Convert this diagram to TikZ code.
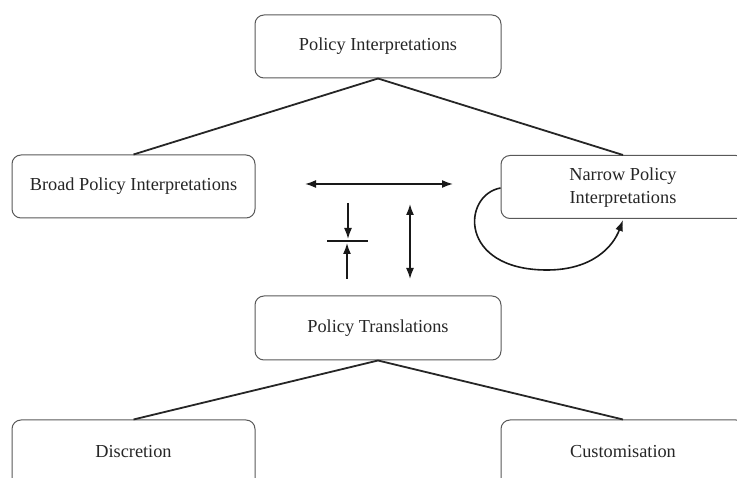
\documentclass[tikz,border=0pt]{standalone}
\usepackage{fontspec}
\setmainfont{Liberation Serif}
\usetikzlibrary{arrows.meta}
\begin{document}
\begin{tikzpicture}[x=1pt,y=-1pt,
  lbl/.style={font=\fontsize{18.3}{23}\selectfont,text=black!85},
  box/.style={draw=black!65,line width=1pt,rounded corners=9pt,fill=white,minimum width=244pt,minimum height=63pt,inner sep=0pt,align=center,lbl},
  link/.style={line width=1.8pt,black!85},
  arr/.style={line width=1.6pt,black!90,-{Latex[length=11pt,width=8pt]}},
  darr/.style={line width=1.6pt,black!90,{Latex[length=11pt,width=8pt]}-{Latex[length=11pt,width=8pt]}}]
\useasboundingbox (0,0) rectangle (737,478);
\clip (0,0) rectangle (737,478);
\node[box,minimum width=246pt] (pi) at (378,46.5) {Policy Interpretations};
\node[box,minimum width=243pt] (bp) at (133.5,186.5) {Broad Policy Interpretations};
\node[box,text depth=3pt] (np) at (623,187) {Narrow Policy\\Interpretations};
\node[box,minimum width=246pt,minimum height=64pt] (pt) at (378,328) {Policy Translations};
\node[box,minimum width=243pt,minimum height=100pt] (di) at (133.5,470) {};
\node[lbl] (dit) at (133.5,452) {Discretion};
\node[box,minimum height=100pt] (cu) at (623,470) {};
\node[lbl] (cut) at (623,452) {Customisation};
\draw[link] (pi.south) -- (bp.north);
\draw[link] (pi.south) -- (np.north);
\draw[link] (pt.south) -- (di.north);
\draw[link] (pt.south) -- (cu.north);
\coordinate (h1) at (305,184);
\coordinate (h2) at (453,184);
\draw[darr] (h1) -- (h2);
\coordinate (v1) at (410,204);
\coordinate (v2) at (410,279);
\draw[darr] (v1) -- (v2);
\coordinate (b1) at (327,241);
\coordinate (b2) at (368,241);
\draw[line width=1.2pt,black!90] (b1) -- (b2);
\coordinate (d1) at (348,203);
\coordinate (d2) at (348,239);
\draw[arr] (d1) -- (d2);
\coordinate (u1) at (347,279);
\coordinate (u2) at (347,243);
\draw[arr] (u1) -- (u2);
\draw[arr] (np.west |- 0,188) .. controls (462,195) and (458,270) .. (547,270) .. controls (592,270) and (613,247) .. (623,220);
\end{tikzpicture}
\end{document}
